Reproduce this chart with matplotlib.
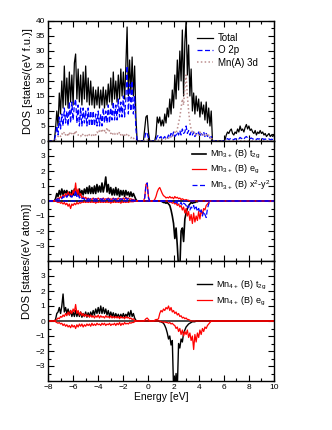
import numpy as np
import matplotlib
matplotlib.use('Agg')
import matplotlib.pyplot as plt
from matplotlib.ticker import MultipleLocator

plt.rcParams['font.family'] = ['Liberation Sans', 'DejaVu Sans']
plt.rcParams['mathtext.fontset'] = 'custom'
plt.rcParams['mathtext.rm'] = 'Liberation Sans'
plt.rcParams['mathtext.it'] = 'Liberation Sans:italic'

## Energy grid (eV), 0.1 eV steps
E = np.round(np.arange(-8.0, 10.05, 0.1), 1)

## ---- Top panel: total / O 2p / Mn(A) 3d  [states/(eV f.u.)] ----
# valence band -7.5 .. -1.0
tot_vb = [0, 4, 10, 5, 16, 9, 20, 11, 25, 12,
          21, 11, 23, 13, 22, 12, 26, 29, 14, 24,
          13, 22, 12, 23, 14, 25, 13, 21, 12, 20,
          12, 18, 11, 17, 12, 18, 11, 17, 12, 18,
          11, 17, 12, 19, 13, 21, 12, 23, 14, 20,
          13, 22, 14, 24, 15, 23, 14, 25, 38, 15,
          27, 16, 28, 15, 25, 8]
# small peak -0.4 .. 0.1
tot_gap = [0, 4, 8, 8.5, 3, 0]
# conduction band 0.5 .. 5.1
tot_cb = [0, 2, 8, 6, 8, 5, 7, 5, 9, 6,
          11, 8, 14, 9, 17, 11, 22, 14, 27, 17,
          30, 20, 37, 15, 33, 40, 22, 32, 15, 24,
          10, 16, 9, 15, 10, 14, 8, 13, 9, 12,
          7, 13, 6, 11, 5, 10, 0]
# high energy 6.0 .. 10.0
tot_hi = [0, 0.5, 2, 3, 2.5, 3.5, 4, 2.5, 2, 3,
          2.5, 4, 3, 5, 3.5, 4, 3, 4.5, 5.5, 4,
          5, 3.5, 4, 3, 2.5, 3.5, 2, 3, 2.5, 3.5,
          2.5, 3, 2, 2.5, 1.5, 2, 2.5, 1.5, 2, 1.5,
          2]

o2p_vb = [0, 2, 5, 2, 8, 4, 9, 5, 11, 6,
          10, 5, 13, 6, 13, 7, 12, 14, 6, 12,
          5, 11, 5, 11, 6, 10, 5, 11, 5, 10,
          5, 10, 5, 9, 5, 10, 5, 9, 5, 11,
          6, 10, 6, 12, 6, 11, 7, 13, 7, 12,
          7, 14, 8, 13, 8, 15, 8, 14, 25, 9,
          19, 10, 20, 9, 15, 4]
o2p_gap = [0, 1, 3, 2.5, 1, 0]
o2p_cb = [0, 0.5, 1.5, 2, 1, 1.5, 0.5, 1, 1.5, 0.5,
          1, 2, 1, 2.5, 1.5, 3, 1.5, 2, 3, 2,
          3.5, 2, 4, 2.5, 3, 5, 2.5, 3.5, 2, 3,
          2, 3, 1.5, 2.5, 2, 3, 1.5, 2.5, 2, 3,
          1.5, 2.5, 1.5, 2, 1, 1.5, 0]
o2p_hi = [0, 0.2, 0.5, 0.8, 0.5, 0.7, 1, 0.6, 0.4, 0.8,
          0.6, 1, 0.7, 1.2, 0.8, 1, 0.6, 1.2, 1.5, 1,
          1.2, 0.8, 1, 0.7, 0.6, 0.9, 0.5, 0.8, 0.6, 0.9,
          0.6, 0.8, 0.5, 0.7, 0.4, 0.6, 0.7, 0.4, 0.6, 0.5,
          0.5]

mna_vb = [0, 0.5, 1, 1.5, 2, 1.5, 2.5, 2, 3, 2,
          2.5, 1.5, 3, 2, 2.5, 3, 2, 3.5, 2.5, 2,
          2, 1.5, 2.5, 2, 1.5, 2, 1.5, 2.5, 2, 1.5,
          2, 1.5, 2.5, 2, 3, 2.5, 3.5, 3, 4, 3,
          3.5, 2.5, 4.5, 3, 3.5, 2.5, 3, 2, 2.5, 2,
          2.5, 2, 3, 2, 2.5, 1.5, 2, 1.5, 2.5, 2,
          1.5, 1, 1.5, 1, 0.5, 0]
mna_gap = [0, 0.2, 0.4, 0.4, 0.2, 0]
mna_cb = [0, 0, 0.2, 0.3, 0.3, 0.5, 0.4, 0.6, 0.5, 0.8,
          0.6, 1, 0.8, 1.5, 1.2, 2, 3, 2.5, 4, 6,
          8, 11, 14, 12, 18, 22, 15, 10, 6, 4,
          3, 2.5, 3, 2, 2.5, 2, 3, 2, 2.5, 2,
          2, 2.5, 1.5, 2, 1, 1.5, 0]

## ---- Middle panel: Mn3+ (B) [states/(eV atom)] ----
m3_t2g_up = [0, 0.15, 0.5, 0.3, 0.7, 0.4, 0.8, 0.4, 0.7, 0.5,
             0.7, 0.4, 0.6, 0.3, 0.7, 0.4, 0.8, 0.4, 0.7, 0.4,
             0.8, 0.4, 0.7, 0.4, 0.8, 0.5, 0.9, 0.5, 1.0, 0.5,
             0.9, 0.5, 1.0, 0.5, 1.1, 0.6, 1.0, 0.6, 1.2, 0.6,
             1.0, 1.6, 0.6, 1.1, 0.5, 0.9, 0.4, 0.8, 0.4, 0.9,
             0.4, 0.8, 0.3, 0.7, 0.4, 0.7, 0.3, 0.7, 0.4, 0.6,
             0.3, 0.6, 0.3, 0.5, 0.3, 0.1]
m3_t2g_dn = [0, 0, 0, 0, 0, 0, -0.05, -0.1, -0.1, -0.15,
             -0.1, -0.2, -0.3, -0.6, -1.0, -1.5, -2.5, -1.8, -3.0, -4.5,
             -4.5, -2.0, -1.8, -2.7, -1.2, -0.8, -0.5, -0.3, -0.2, -0.1,
             -0.15, -0.1, -0.1, -0.05, -0.05, 0, 0, 0, 0, 0,
             0, 0, 0, 0, 0, 0, 0]

m3_eg_up_vb = [0, 0.05, 0.1, 0.2, 0.15, 0.3, 0.2, 0.4, 0.3, 0.5,
               0.3, 0.6, 0.4, 0.5, 0.3, 0.7, 0.5, 1.2, 0.4, 0.8,
               0.3, 0.5, 0.2, 0.3, 0.15, 0.25, 0.1, 0.2, 0.1, 0.15,
               0.1, 0.2, 0.1, 0.15, 0.1, 0.2, 0.1, 0.15, 0.1, 0.2,
               0.1, 0.15, 0.1, 0.2, 0.1, 0.15, 0.1, 0.2, 0.1, 0.15,
               0.1, 0.2, 0.1, 0.15, 0.1, 0.2, 0.1, 0.25, 0.15, 0.2,
               0.1, 0.15, 0.1, 0.1, 0.05, 0]
m3_eg_dn_vb = [0, 0, -0.05, -0.1, -0.05, -0.15, -0.1, -0.2, -0.1, -0.25,
               -0.15, -0.35, -0.2, -0.5, -0.2, -0.3, -0.15, -0.25, -0.1, -0.2,
               -0.1, -0.15, -0.05, -0.1, -0.05, -0.1, -0.05, -0.1, -0.05, -0.1,
               -0.05, -0.1, -0.05, -0.15, -0.05, -0.1, -0.05, -0.1, -0.05, -0.1,
               -0.05, -0.1, -0.05, -0.1, -0.05, -0.15, -0.05, -0.1, -0.05, -0.1,
               -0.05, -0.1, -0.05, -0.15, -0.05, -0.1, -0.05, -0.1, -0.05, -0.1,
               -0.05, -0.05, -0.05, -0.05, 0, 0]
m3_eg_gap = [0, 0.2, 1.1, 1.2, 0.3, 0]
m3_eg_up_cb = [0.1, 0.3, 0.6, 0.8, 0.9, 0.7, 0.5, 0.35, 0.3, 0.2,
               0.25, 0.2, 0.3, 0.2, 0.25, 0.15, 0.3, 0.2, 0.25, 0.15,
               0.2, 0.1, 0.15, 0.1, 0.05, 0.1, 0.05, 0.05, 0, 0,
               0, 0, 0, 0, 0, 0, 0, 0, 0, 0,
               0, 0, 0, 0, 0, 0, 0]
m3_eg_dn_cb = [0, 0, 0, 0, 0, 0, 0, 0, 0, 0,
               0, -0.05, -0.1, -0.05, -0.15, -0.1, -0.2, -0.15, -0.3, -0.2,
               -0.4, -0.3, -0.6, -0.4, -0.8, -0.5, -1.0, -0.7, -1.3, -0.9,
               -1.5, -0.8, -1.4, -1.0, -1.3, -0.7, -1.2, -0.6, -0.9, -0.5,
               -0.6, -0.3, -0.2, -0.1, 0, 0, 0]

m3_x2_up_vb = [0, 0.05, 0.1, 0.15, 0.1, 0.2, 0.15, 0.3, 0.2, 0.35,
               0.25, 0.4, 0.3, 0.35, 0.25, 0.4, 0.3, 0.7, 0.3, 0.45,
               0.2, 0.3, 0.15, 0.2, 0.1, 0.2, 0.1, 0.15, 0.1, 0.15,
               0.1, 0.15, 0.1, 0.15, 0.1, 0.15, 0.1, 0.15, 0.1, 0.15,
               0.1, 0.15, 0.1, 0.15, 0.1, 0.15, 0.1, 0.15, 0.1, 0.15,
               0.1, 0.15, 0.1, 0.15, 0.1, 0.15, 0.1, 0.2, 0.1, 0.15,
               0.1, 0.1, 0.05, 0.05, 0.05, 0]
m3_x2_gap = [0, 0.2, 1.0, 1.2, 0.2, 0]
m3_x2_dn_cb = [0, 0, 0, 0, 0, 0, 0, 0, 0, 0,
               0, 0, -0.05, 0, -0.1, -0.05, -0.1, -0.05, -0.15, -0.1,
               -0.2, -0.1, -0.3, -0.15, -0.2, -0.3, -0.5, -0.3, -0.6, -0.4,
               -0.5, -0.3, -0.6, -0.4, -0.7, -0.5, -0.8, -0.6, -1.0, -0.7,
               -0.9, -1.1, -0.5, -0.2, 0, 0, 0]

## ---- Bottom panel: Mn4+ (B) [states/(eV atom)] ----
m4_t2g_up = [0, 0.1, 0.5, 0.6, 0.9, 0.5, 1.0, 1.8, 0.6, 0.9,
             0.5, 0.8, 0.4, 0.7, 0.3, 0.6, 0.3, 0.7, 0.3, 0.6,
             0.3, 0.6, 0.25, 0.5, 0.3, 0.6, 0.25, 0.55, 0.3, 0.6,
             0.35, 0.7, 0.4, 0.8, 0.5, 0.9, 0.5, 1.0, 0.5, 0.9,
             0.5, 0.8, 0.4, 0.7, 0.3, 0.6, 0.3, 0.55, 0.25, 0.5,
             0.25, 0.45, 0.2, 0.45, 0.25, 0.5, 0.25, 0.45, 0.3, 0.6,
             0.3, 0.7, 0.3, 0.5, 0.2, 0.05]
m4_t2g_dn = [0, 0, 0, 0, -0.05, -0.05, -0.1, -0.15, -0.3, -0.5,
             -0.8, -1.2, -1.0, -1.6, -1.3, -4.5, -4.5, -3.5, -4.5, -1.5,
             -1.8, -1.2, -1.4, -0.8, -0.6, -0.4, -0.3, -0.2, -0.15, -0.1,
             -0.05, -0.05, -0.05, 0, 0, 0, 0, 0, 0, 0,
             0, 0, 0, 0, 0, 0, 0]

m4_eg_up_vb = [0, 0.05, 0.1, 0.2, 0.15, 0.3, 0.25, 0.4, 0.3, 0.5,
               0.35, 0.6, 0.4, 0.7, 0.5, 0.8, 0.6, 1.1, 0.5, 0.7,
               0.4, 0.6, 0.35, 0.5, 0.3, 0.45, 0.3, 0.4, 0.25, 0.4,
               0.25, 0.35, 0.2, 0.35, 0.25, 0.4, 0.2, 0.35, 0.25, 0.3,
               0.2, 0.35, 0.25, 0.3, 0.2, 0.35, 0.2, 0.3, 0.2, 0.3,
               0.2, 0.3, 0.15, 0.3, 0.2, 0.25, 0.15, 0.3, 0.2, 0.25,
               0.15, 0.2, 0.1, 0.15, 0.05, 0]
m4_eg_dn_vb = [0, -0.05, -0.1, -0.15, -0.1, -0.2, -0.15, -0.3, -0.2, -0.35,
               -0.25, -0.4, -0.3, -0.45, -0.25, -0.4, -0.3, -0.5, -0.25, -0.4,
               -0.2, -0.35, -0.2, -0.4, -0.25, -0.35, -0.2, -0.3, -0.2, -0.35,
               -0.15, -0.3, -0.2, -0.3, -0.15, -0.25, -0.2, -0.3, -0.15, -0.25,
               -0.15, -0.3, -0.2, -0.25, -0.15, -0.3, -0.2, -0.25, -0.15, -0.3,
               -0.15, -0.25, -0.1, -0.3, -0.15, -0.25, -0.1, -0.2, -0.15, -0.2,
               -0.1, -0.15, -0.1, -0.1, -0.05, 0]
m4_eg_gap = [0, 0.05, 0.15, 0.2, 0.1, 0]
m4_eg_up_cb = [0.05, 0.1, 0.1, 0.15, 0.5, 0.7, 0.6, 0.8, 0.7, 0.9,
               0.8, 1.0, 0.7, 0.9, 0.6, 0.7, 0.5, 0.6, 0.4, 0.5,
               0.3, 0.35, 0.2, 0.25, 0.15, 0.2, 0.1, 0.1, 0.05, 0,
               0, 0, 0, 0, 0, 0, 0, 0, 0, 0,
               0, 0, 0, 0, 0, 0, 0]
m4_eg_dn_cb = [0, 0, 0, 0, 0, -0.05, -0.05, -0.1, -0.05, -0.1,
               -0.1, -0.15, -0.1, -0.2, -0.15, -0.25, -0.3, -0.5, -0.4, -0.7,
               -0.5, -0.9, -0.6, -1.0, -0.7, -0.9, -0.6, -1.1, -0.8, -1.3,
               -1.0, -1.9, -0.9, -1.4, -0.8, -1.1, -0.6, -0.9, -0.5, -0.7,
               -0.4, -0.5, -0.3, -0.2, -0.1, 0, 0]


def on_grid(*parts):
    # parts: (start energy, values) pairs, everything else is zero
    arr = np.zeros(len(E))
    for start, vals in parts:
        i0 = int(round((start + 8.0) / 0.1))
        arr[i0:i0 + len(vals)] = vals
    return arr


total = on_grid((-7.5, tot_vb), (-0.4, tot_gap), (0.5, tot_cb), (6.0, tot_hi))
o2p = on_grid((-7.5, o2p_vb), (-0.4, o2p_gap), (0.5, o2p_cb), (6.0, o2p_hi))
mna = on_grid((-7.5, mna_vb), (-0.4, mna_gap), (0.5, mna_cb))

fig = plt.figure(figsize=(3.32, 4.30), dpi=100, facecolor='white')
left, width, h = 48/332, 226/332, 120/430
ax1 = fig.add_axes([left, 1 - 141/430, width, h])
ax2 = fig.add_axes([left, 1 - 261/430, width, h])
ax3 = fig.add_axes([left, 1 - 381/430, width, h])

leg_kw = dict(loc='upper left', frameon=False, handlelength=1.6,
              handletextpad=0.5, borderaxespad=0, borderpad=0)

## Top panel
ax1.plot(E, total, color='black', lw=0.9, label='Total')
ax1.plot(E, o2p, color='blue', lw=0.9, ls=(0, (4, 2)), label='O 2p')
ax1.plot(E, mna, color='#bc8f8f', lw=1.1, ls=(0, (1, 1.5)), label='Mn(A) 3d')
ax1.set_ylim(0, 40)
ax1.yaxis.set_major_locator(MultipleLocator(5))
ax1.yaxis.set_minor_locator(MultipleLocator(2.5))
ax1.set_ylabel('DOS [states/(eV f.u.)]', fontsize=8, labelpad=2)
ax1.legend(bbox_to_anchor=(0.66, 0.9), fontsize=7, labelspacing=0.25, **leg_kw)

## Middle panel
ax2.plot(E, on_grid((-7.5, m3_t2g_up)), color='black', lw=1.2,
         label=r'Mn$_{3+}$ (B) t$_{\mathrm{2g}}$')
ax2.plot(E, on_grid((0.5, m3_t2g_dn)), color='black', lw=1.2)
ax2.plot(E, on_grid((-7.5, m3_eg_up_vb), (-0.4, m3_eg_gap), (0.5, m3_eg_up_cb)),
         color='red', lw=0.9, label=r'Mn$_{3+}$ (B) e$_{\mathrm{g}}$')
ax2.plot(E, on_grid((-7.5, m3_eg_dn_vb), (0.5, m3_eg_dn_cb)), color='red', lw=0.9)
ax2.plot(E, on_grid((-7.5, m3_x2_up_vb), (-0.4, m3_x2_gap)), color='blue', lw=0.9,
         ls=(0, (4, 2)), label=r'Mn$_{3+}$ (B) x$^{2}$-y$^{2}$')
ax2.plot(E, on_grid((0.5, m3_x2_dn_cb)), color='blue', lw=0.9, ls=(0, (4, 2)))
ax2.legend(bbox_to_anchor=(0.635, 0.94), fontsize=6.5, labelspacing=0.2, **leg_kw)

## Bottom panel
ax3.plot(E, on_grid((-7.5, m4_t2g_up)), color='black', lw=1.0,
         label=r'Mn$_{4+}$ (B) t$_{\mathrm{2g}}$')
ax3.plot(E, on_grid((0.5, m4_t2g_dn)), color='black', lw=1.0)
ax3.plot(E, on_grid((-7.5, m4_eg_up_vb), (-0.4, m4_eg_gap), (0.5, m4_eg_up_cb)),
         color='red', lw=0.9, label=r'Mn$_{4+}$ (B) e$_{\mathrm{g}}$')
ax3.plot(E, on_grid((-7.5, m4_eg_dn_vb), (0.5, m4_eg_dn_cb)), color='red', lw=0.9)
ax3.legend(bbox_to_anchor=(0.66, 0.85), fontsize=6.5, labelspacing=0.3, **leg_kw)
ax3.set_xlabel('Energy [eV]', fontsize=7.5, labelpad=1)

for ax in (ax2, ax3):
    ax.set_ylim(-4, 4)
    ax.set_yticks([-3, -2, -1, 0, 1, 2, 3])
    ax.yaxis.set_minor_locator(MultipleLocator(0.5))

for ax in (ax1, ax2, ax3):
    ax.set_xlim(-8, 10)
    ax.xaxis.set_major_locator(MultipleLocator(2))
    ax.xaxis.set_minor_locator(MultipleLocator(1))
    ax.tick_params(which='both', direction='in', top=True, right=True,
                   labelsize=6, width=0.8, pad=2)
    ax.tick_params(which='major', length=4.5)
    ax.tick_params(which='minor', length=2.5)
    for s in ax.spines.values():
        s.set_linewidth(1.0)
ax1.tick_params(labelbottom=False)
ax2.tick_params(labelbottom=False)

fig.text(27/332, 1 - 261/430, 'DOS [states/(eV atom)]', rotation=90,
         ha='center', va='center', fontsize=8)

fig.savefig('out.png', dpi=100, facecolor='white')
